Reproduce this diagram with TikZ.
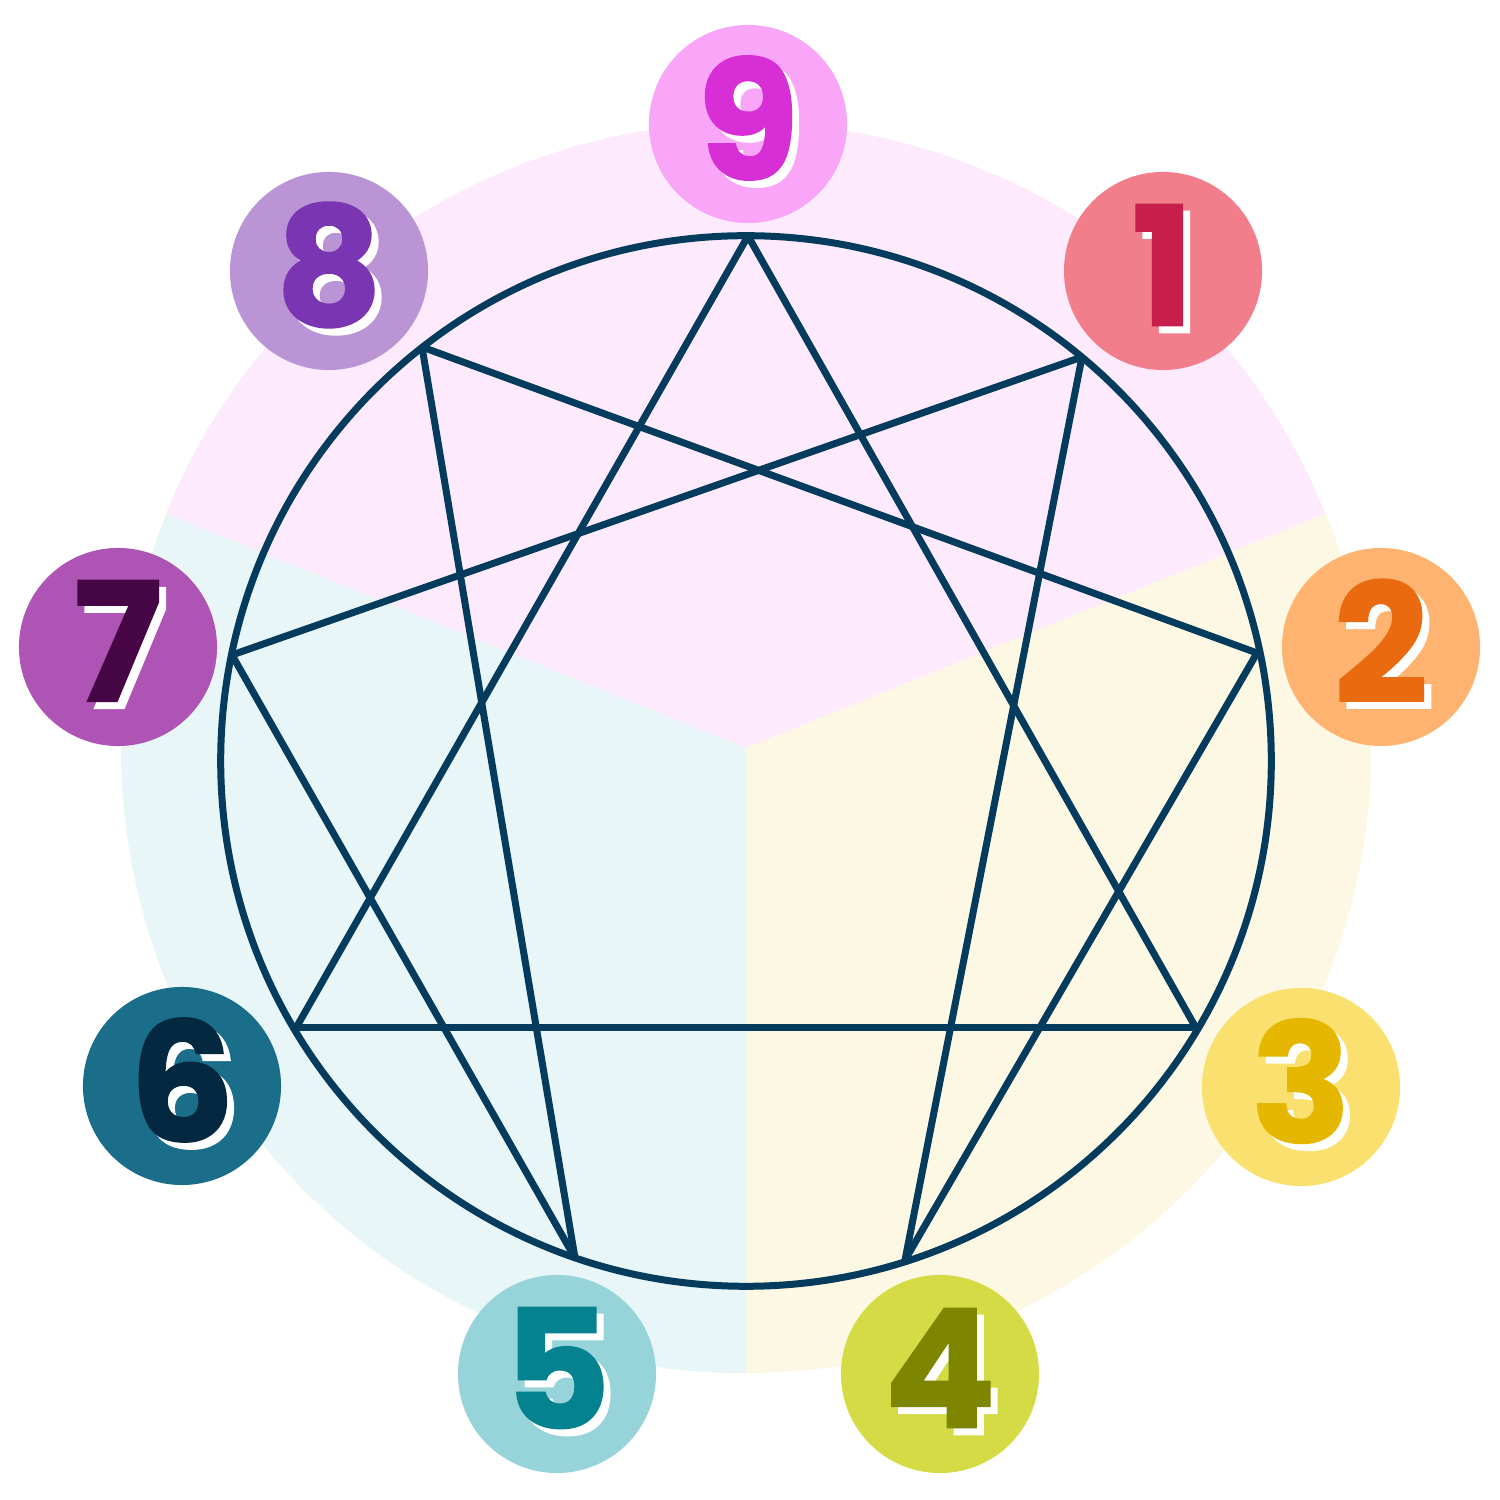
\documentclass[tikz,border=0pt]{standalone}
\usepackage{fontspec}
\setmainfont{Poppins}
\newfontfamily\digitfamily[BoldFeatures={FakeBold=1.2}]{Poppins}
\definecolor{linec}{HTML}{053B5C}
\definecolor{pinkbg}{HTML}{FDEBFD}
\definecolor{yellowbg}{HTML}{FDF8E4}
\definecolor{bluebg}{HTML}{E8F6F7}
\definecolor{bgone}{HTML}{F17E8A}\definecolor{fgone}{HTML}{C81E4E}
\definecolor{bgtwo}{HTML}{FEB470}\definecolor{fgtwo}{HTML}{EA6A10}
\definecolor{bgthree}{HTML}{FAE06E}\definecolor{fgthree}{HTML}{E5B700}
\definecolor{bgfour}{HTML}{D5DB45}\definecolor{fgfour}{HTML}{7E8600}
\definecolor{bgfive}{HTML}{96D4DA}\definecolor{fgfive}{HTML}{05828F}
\definecolor{bgsix}{HTML}{1B6E8A}\definecolor{fgsix}{HTML}{042840}
\definecolor{bgseven}{HTML}{AE54B4}\definecolor{fgseven}{HTML}{460646}
\definecolor{bgeight}{HTML}{BA94D4}\definecolor{fgeight}{HTML}{7A36B2}
\definecolor{bgnine}{HTML}{F9A6F8}\definecolor{fgnine}{HTML}{D82ED6}
\begin{document}
\begin{tikzpicture}[x=0.01cm,y=0.01cm,
  numcirc/.style={circle, minimum size=1.98cm, inner sep=0pt, draw=none},
  digitfont/.style={inner sep=0pt, font=\digitfamily\fontsize{47pt}{47pt}\selectfont\bfseries},
  shadowdigit/.style={digitfont, text=white},
  conn/.style={draw=linec, line width=0.07cm},
]
\fill[white] (0,0) rectangle (1500,1500);
\useasboundingbox (0,0) rectangle (1500,1500);

% background sectors
\coordinate (bc) at (746,752);
\fill[pinkbg] (bc) -- ++(22:625) arc[start angle=22, end angle=158, radius=6.25cm] -- cycle;
\fill[yellowbg] (bc) -- ++(-90:625) arc[start angle=-90, end angle=22, radius=6.25cm] -- cycle;
\fill[bluebg] (bc) -- ++(158:625) arc[start angle=158, end angle=270, radius=6.25cm] -- cycle;

% enneagram points
\coordinate (cc) at (746,739);
\coordinate (p9) at (748,1264);
\coordinate (p1) at (1082,1143);
\coordinate (p2) at (1257,847);
\coordinate (p3) at (1196,472);
\coordinate (p4) at (905,240);
\coordinate (p5) at (575,242);
\coordinate (p6) at (296,472);
\coordinate (p7) at (232,845);
\coordinate (p8) at (422,1153);

% lines
\draw[conn] (p9) -- (p3);
\draw[conn] (p3) -- (p6);
\draw[conn] (p6) -- (p9);
\draw[conn] (p1) -- (p4);
\draw[conn] (p4) -- (p2);
\draw[conn] (p2) -- (p8);
\draw[conn] (p8) -- (p5);
\draw[conn] (p5) -- (p7);
\draw[conn] (p7) -- (p1);
\draw[conn] (cc) circle[radius=5.25cm];

% number circles
\node[numcirc, fill=bgnine] (c9) at (748,1376) {};
\node[numcirc, fill=bgone] (c1) at (1163,1229) {};
\node[numcirc, fill=bgtwo] (c2) at (1381,853) {};
\node[numcirc, fill=bgthree] (c3) at (1301,413) {};
\node[numcirc, fill=bgfour] (c4) at (940,126) {};
\node[numcirc, fill=bgfive] (c5) at (557,126) {};
\node[numcirc, fill=bgsix] (c6) at (182,414) {};
\node[numcirc, fill=bgseven] (c7) at (118,853) {};
\node[numcirc, fill=bgeight] (c8) at (329,1229) {};

% digits with white offset shadow
\foreach \n/\d/\fg in {9/9/fgnine,1/1/fgone,2/2/fgtwo,3/3/fgthree,4/4/fgfour,5/5/fgfive,6/6/fgsix,7/7/fgseven,8/8/fgeight}{
  \node[shadowdigit] (s\n) at ([xshift=0.07cm,yshift=-0.01cm]c\n.center) {\d};
  \node[digitfont, text=\fg] (d\n) at ([yshift=0.06cm]c\n.center) {\d};
}
\end{tikzpicture}
\end{document}
